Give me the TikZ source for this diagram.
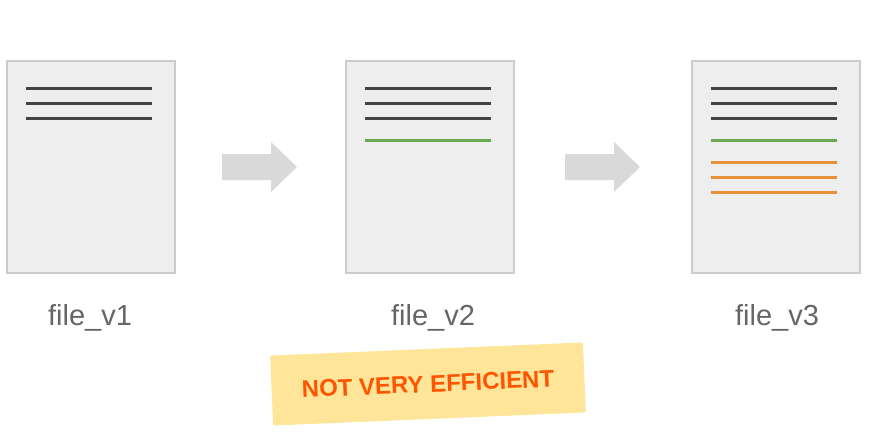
\documentclass[tikz,border=0pt]{standalone}
\usepackage{fontspec}
\setmainfont{Liberation Sans}
\definecolor{pagefill}{HTML}{EEEEEE}
\definecolor{pageedge}{HTML}{CCCCCC}
\definecolor{darkline}{HTML}{434343}
\definecolor{greenline}{HTML}{6AA84F}
\definecolor{orangeline}{HTML}{E69138}
\definecolor{arrowgray}{HTML}{D9D9D9}
\definecolor{labelgray}{HTML}{666666}
\definecolor{notefill}{HTML}{FFE599}
\definecolor{notetext}{HTML}{FF5500}
\tikzset{
  page/.style={draw=pageedge,line width=1.5pt,fill=pagefill,minimum width=168pt,minimum height=212pt,inner sep=0pt},
  txtline/.style={line width=3pt},
  flabel/.style={text=labelgray,font=\fontsize{29}{32}\selectfont},
  bigarrow/.style={fill=arrowgray,draw=none},
  note/.style={fill=notefill,rounded corners=2pt,minimum width=313pt,minimum height=70pt,text=notetext,font=\fontsize{24}{26}\selectfont\bfseries}
}
\begin{document}
\begin{tikzpicture}
\begin{scope}[x={(1pt,0)},y={(0,-1pt)}]
\useasboundingbox (0,0) rectangle (870,436);

% pages
\node[page] (d1) at (91,167) {};
\node[page] (d2) at (430,167) {};
\node[page] (d3) at (776,167) {};

% text lines
\foreach \d in {d1,d2,d3}
  \foreach \y in {28,43,58}
    \draw[txtline,darkline] ([shift={(20,\y)}]\d.north west) -- ++(126,0);
\foreach \d in {d2,d3}
  \draw[txtline,greenline] ([shift={(20,80)}]\d.north west) -- ++(126,0);
\foreach \y in {102,117,132}
  \draw[txtline,orangeline] ([shift={(20,\y)}]d3.north west) -- ++(126,0);

% arrows
\draw[bigarrow] (222,154) -- (271,154) -- (271,142) -- (297,167) -- (271,192) -- (271,180) -- (222,180) -- cycle;
\draw[bigarrow] (565,154) -- (614,154) -- (614,142) -- (640,167) -- (614,192) -- (614,180) -- (565,180) -- cycle;

% labels
\node[flabel] (l1) at (90,318) {file\_v1};
\node[flabel] (l2) at (433,318) {file\_v2};
\node[flabel] (l3) at (777,318) {file\_v3};

% sticky note
\node[note,rotate=2.4] (memo) at (428,384) {NOT VERY EFFICIENT};
\end{scope}
\end{tikzpicture}
\end{document}
